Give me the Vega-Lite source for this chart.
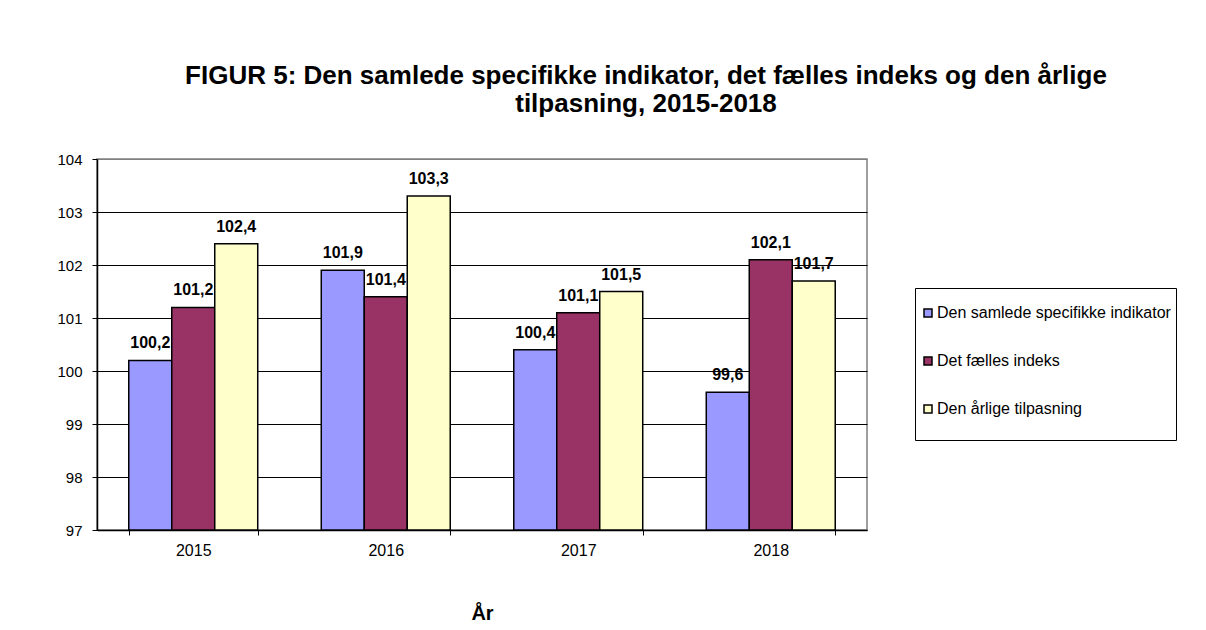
{
  "$schema": "https://vega.github.io/schema/vega-lite/v6.json",
  "width": 770,
  "height": 371,
  "autosize": {"type": "none"},
  "padding": {"left": 97, "top": 159, "right": 339, "bottom": 100},
  "background": "white",
  "config": {
    "font": "Liberation Sans",
    "locale": {"number": {"decimal": ",", "thousands": ".", "grouping": [3], "currency": ["", " kr."]}},
    "view": {"stroke": "#808080", "strokeWidth": 1.5}
  },
  "title": {
    "text": ["FIGUR 5: Den samlede specifikke indikator, det fælles indeks og den årlige", "tilpasning, 2015-2018"],
    "fontSize": 26,
    "fontWeight": "bold",
    "color": "black",
    "anchor": "middle",
    "frame": "group",
    "dx": 164,
    "lineHeight": 28,
    "offset": 35
  },
  "data": {
    "values": [
      {"year": "2015", "series": "Den samlede specifikke indikator", "value": 100.2},
      {"year": "2015", "series": "Det fælles indeks", "value": 101.2},
      {"year": "2015", "series": "Den årlige tilpasning", "value": 102.4},
      {"year": "2016", "series": "Den samlede specifikke indikator", "value": 101.9},
      {"year": "2016", "series": "Det fælles indeks", "value": 101.4},
      {"year": "2016", "series": "Den årlige tilpasning", "value": 103.3},
      {"year": "2017", "series": "Den samlede specifikke indikator", "value": 100.4},
      {"year": "2017", "series": "Det fælles indeks", "value": 101.1},
      {"year": "2017", "series": "Den årlige tilpasning", "value": 101.5},
      {"year": "2018", "series": "Den samlede specifikke indikator", "value": 99.6},
      {"year": "2018", "series": "Det fælles indeks", "value": 102.1},
      {"year": "2018", "series": "Den årlige tilpasning", "value": 101.7}
    ]
  },
  "encoding": {
    "x": {
      "field": "year",
      "type": "nominal",
      "scale": {"paddingInner": 0.33, "paddingOuter": 0.165},
      "axis": {
        "title": "År",
        "titleFontSize": 20,
        "titleFontWeight": "bold",
        "titleColor": "black",
        "titlePadding": 45,
        "labelAngle": 0,
        "labelFontSize": 16,
        "labelColor": "black",
        "labelPadding": 7,
        "tickBand": "extent",
        "tickSize": 5,
        "tickColor": "black",
        "domainColor": "black",
        "domainWidth": 1.5,
        "grid": false
      }
    },
    "xOffset": {
      "field": "series",
      "type": "nominal",
      "sort": ["Den samlede specifikke indikator", "Det fælles indeks", "Den årlige tilpasning"],
      "scale": {"paddingInner": 0, "paddingOuter": 0}
    },
    "y": {
      "field": "value",
      "type": "quantitative",
      "scale": {"domain": [97, 104], "zero": false, "nice": false},
      "axis": {
        "title": null,
        "values": [97, 98, 99, 100, 101, 102, 103, 104],
        "labelFontSize": 15,
        "labelColor": "black",
        "labelPadding": 10,
        "tickSize": 5,
        "tickColor": "black",
        "domainColor": "black",
        "domainWidth": 1.5,
        "gridColor": {"condition": {"test": "datum.value == 104", "value": "#808080"}, "value": "black"},
        "gridWidth": 1.2
      }
    }
  },
  "layer": [
    {
      "mark": {"type": "bar", "stroke": "black", "strokeWidth": 1.5},
      "encoding": {
        "y2": {"datum": 97},
        "color": {
          "field": "series",
          "type": "nominal",
          "scale": {
            "domain": ["Den samlede specifikke indikator", "Det fælles indeks", "Den årlige tilpasning"],
            "range": ["#9999FF", "#993366", "#FFFFCC"]
          },
          "legend": {
            "title": " ",
            "titleFontSize": 10,
            "titlePadding": 2,
            "orient": "none",
            "legendX": 818,
            "legendY": 129,
            "strokeColor": "black",
            "fillColor": "white",
            "padding": 5,
            "symbolType": "square",
            "symbolSize": 64,
            "symbolStrokeColor": "black",
            "symbolStrokeWidth": 1.5,
            "labelFontSize": 16,
            "labelColor": "black",
            "labelOffset": 1,
            "labelLimit": 300,
            "labelExpr": "[datum.label, '']",
            "labelLineHeight": 12,
            "rowPadding": 14
          }
        }
      }
    },
    {
      "mark": {"type": "text", "baseline": "alphabetic", "dy": -12, "fontSize": 16, "fontWeight": "bold", "color": "black"},
      "encoding": {
        "text": {"field": "value", "type": "quantitative", "format": ".1f"}
      }
    }
  ]
}
